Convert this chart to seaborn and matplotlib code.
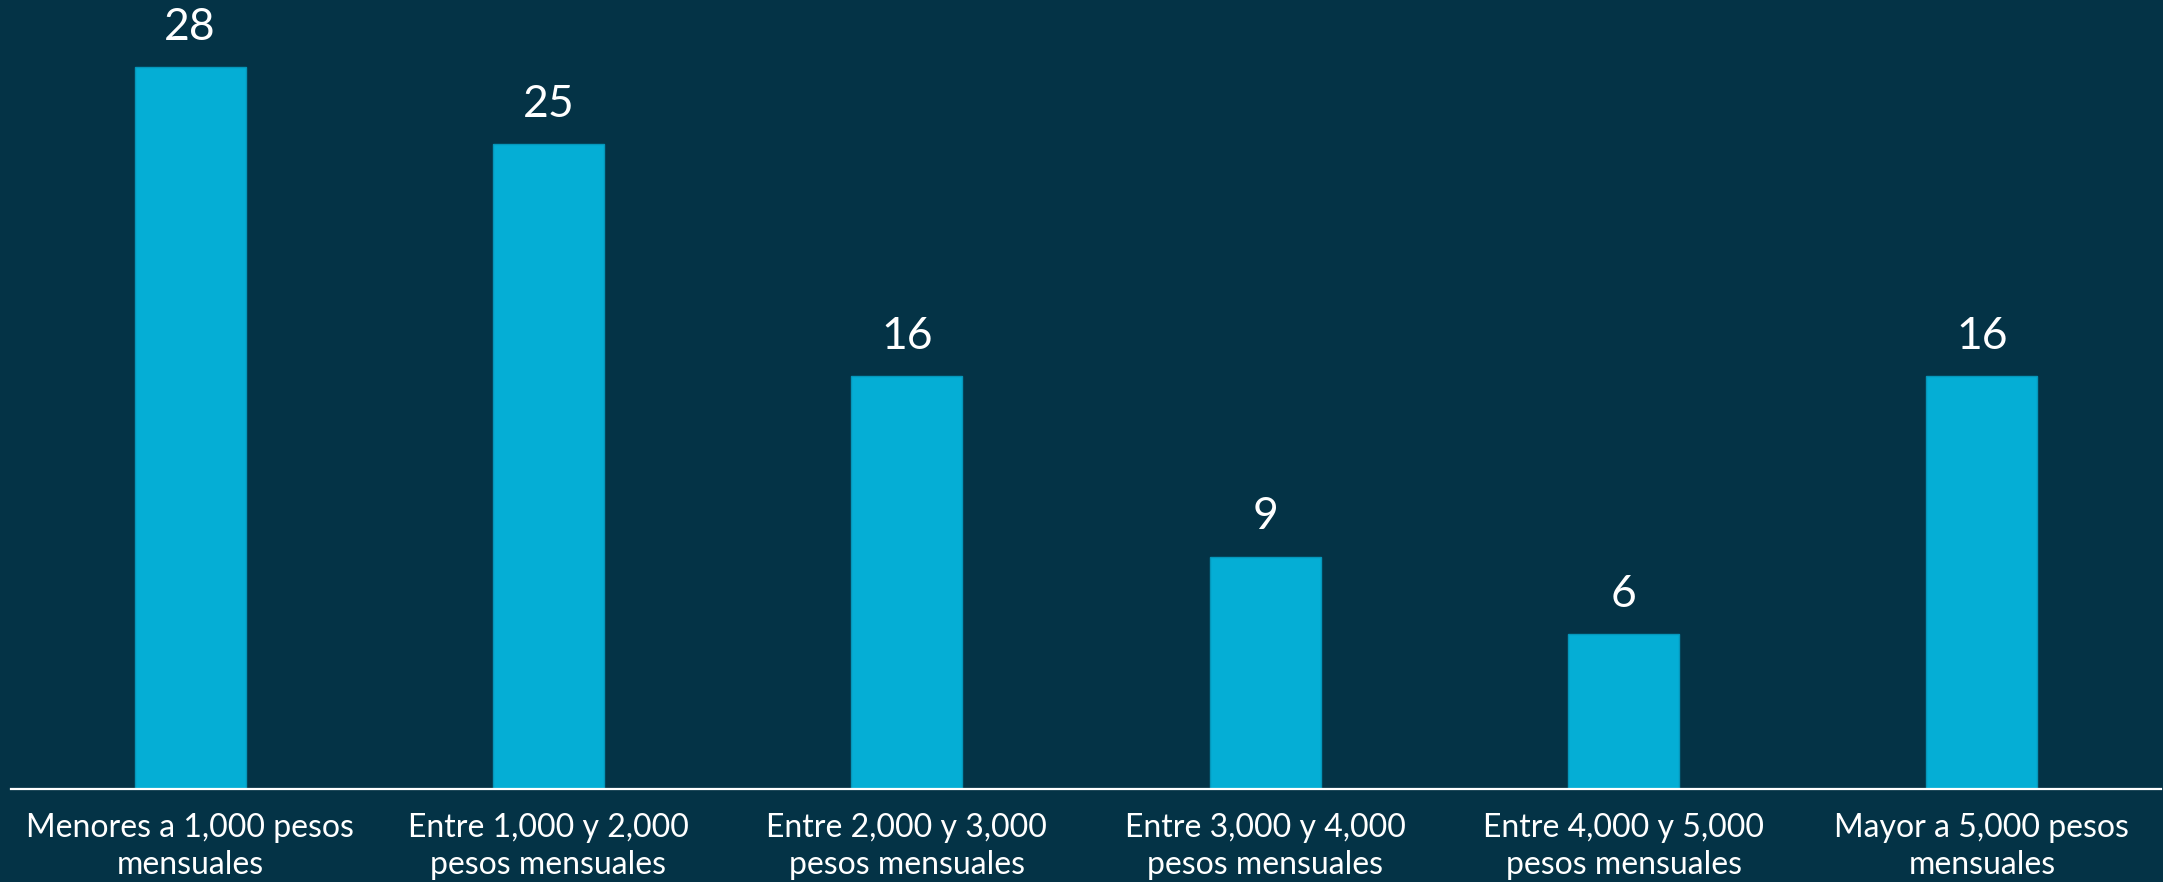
import seaborn as sns
import pandas as pd
import matplotlib.pyplot as plt

categorias = [
    "Menores a 1,000 pesos\nmensuales",
    "Entre 1,000 y 2,000\npesos mensuales",
    "Entre 2,000 y 3,000\npesos mensuales",
    "Entre 3,000 y 4,000\npesos mensuales",
    "Entre 4,000 y 5,000\npesos mensuales",
    "Mayor a 5,000 pesos\nmensuales",
]
valores = [28, 25, 16, 9, 6, 16]

df = pd.DataFrame({"categoria": categorias, "valor": valores})

fondo = "#043346"
azul = "#05aed5"

sns.set_style("white")
plt.rcParams["font.family"] = ["Lato", "DejaVu Sans"]

fig = plt.figure(figsize=(21.63, 8.82), dpi=100, facecolor=fondo)
ax = fig.add_axes([11 / 2163, 93 / 882, 2150 / 2163, 789 / 882])
ax.set_facecolor(fondo)

sns.barplot(data=df, x="categoria", y="valor", color=azul, width=0.31,
            saturation=1, edgecolor="#0597bb", linewidth=1, ax=ax)

for i, v in enumerate(valores):
    ax.annotate(str(v), (i, v), xytext=(0, 14), textcoords="offset points",
                ha="center", va="bottom", color="white", fontsize=32)

ax.set_xlim(-0.5, 5.5)
ax.set_ylim(0, 30.6)
ax.set_xlabel("")
ax.set_ylabel("")
ax.set_yticks([])
for s in ["top", "left", "right"]:
    ax.spines[s].set_visible(False)
ax.spines["bottom"].set_color("white")
ax.spines["bottom"].set_linewidth(1.6)
ax.tick_params(axis="x", length=0, pad=17, labelsize=23, labelcolor="white")
for lbl in ax.get_xticklabels():
    lbl.set_linespacing(1.3)

plt.savefig("out.png", dpi=100, facecolor=fondo)
